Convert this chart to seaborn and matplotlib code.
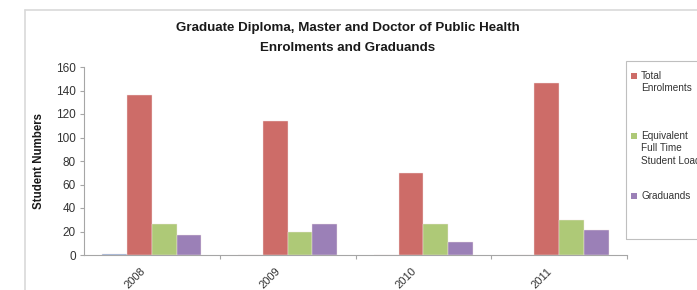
import matplotlib
matplotlib.use("Agg")
import matplotlib.pyplot as plt
from matplotlib.patches import Rectangle
from matplotlib.lines import Line2D
from matplotlib.transforms import ScaledTranslation
import seaborn as sns
import pandas as pd

years = ["2008", "2009", "2010", "2011"]
series_names = ["Other", "Total Enrolments", "Equivalent Full Time Student Load", "Graduands"]
other_vals = [1, 0, 0, 0]
total_enrolments = [136, 114, 70, 146]
eftsl = [26, 20, 26, 30]
graduands = [17, 26, 11, 21]
legend_labels = ["Total\nEnrolments", "Equivalent\nFull Time\nStudent Load", "Graduands"]
colors = ["#7B9FD0", "#CD6C68", "#AEC977", "#9B80B7"]
yticks = [0, 20, 40, 60, 80, 100, 120, 140, 160]

rows = []
for name, vals in zip(series_names, [other_vals, total_enrolments, eftsl, graduands]):
    for y, v in zip(years, vals):
        rows.append({"Year": y, "Series": name, "Value": v})
df = pd.DataFrame(rows)

sns.set_theme(style="white")
plt.rcParams["font.family"] = ["Liberation Sans", "DejaVu Sans"]

W, H = 697, 290
fig = plt.figure(figsize=(W / 100, H / 100), dpi=100)
ax = fig.add_axes([84 / W, 1 - 255 / H, (627 - 84) / W, (255 - 67) / H])

sns.barplot(data=df, x="Year", y="Value", hue="Series", order=years,
            hue_order=series_names, palette=colors, width=0.73, saturation=1,
            edgecolor="#F2E6E6", linewidth=0.3, ax=ax, legend=False)

ax.set_xlim(-0.5, 3.5)
ax.set_ylim(0, 160)
ax.set_yticks(yticks)
ax.set_yticklabels([str(t) for t in yticks], fontsize=8.5, color="#333333")
ax.set_xticks(range(len(years)))
ax.set_xticks([0.5, 1.5, 2.5, 3.5], minor=True)
ax.tick_params(axis="x", which="major", length=0, pad=8)
ax.tick_params(axis="x", which="minor", length=3, width=0.8, color="#A6A6A6", direction="out", bottom=True)
ax.tick_params(axis="y", length=3, width=0.8, color="#A6A6A6", direction="out", left=True, pad=3)
ax.set_xticklabels(years, rotation=45, ha="right", rotation_mode="anchor",
                   fontsize=8, color="#333333")
offset = ScaledTranslation(-12 / 100, 0, fig.dpi_scale_trans)
for lbl in ax.get_xticklabels():
    lbl.set_transform(lbl.get_transform() + offset)
ax.set_xlabel("")
ax.set_ylabel("Student Numbers", fontsize=8.3, fontweight="bold", color="#1A1A1A", labelpad=8)
for s in ["top", "right"]:
    ax.spines[s].set_visible(False)
for s in ["left", "bottom"]:
    ax.spines[s].set_color("#A6A6A6")
    ax.spines[s].set_linewidth(0.8)

# Title
fig.text(348 / W, 1 - 28 / H, "Graduate Diploma, Master and Doctor of Public Health",
         ha="center", va="center", fontsize=9.6, fontweight="bold", color="#1A1A1A")
fig.text(348 / W, 1 - 48 / H, "Enrolments and Graduands",
         ha="center", va="center", fontsize=9.6, fontweight="bold", color="#1A1A1A")

# chart area border (clipped by figure edge)
fig.add_artist(Line2D([25 / W, 1.0], [1 - 10 / H, 1 - 10 / H], color="#D9D9D9", lw=1.2))
fig.add_artist(Line2D([25 / W, 25 / W], [1 - 10 / H, 0], color="#D9D9D9", lw=1.2))

# legend box
fig.add_artist(Rectangle((626 / W, 1 - 239 / H), (720 - 626) / W, (239 - 61) / H,
                         transform=fig.transFigure, fill=False, edgecolor="#BFBFBF", lw=0.8))
entry_y = [76, 136, 196]
for yy, lab, c in zip(entry_y, legend_labels, colors[1:]):
    fig.add_artist(Rectangle((631 / W, 1 - (yy + 3) / H), 6 / W, 6 / H,
                             transform=fig.transFigure, facecolor=c, edgecolor="none"))
    fig.text(641 / W, 1 - (yy - 5) / H, lab, ha="left", va="top", fontsize=7.2,
             color="#333333", linespacing=1.3)

fig.savefig("out.png", dpi=100)
